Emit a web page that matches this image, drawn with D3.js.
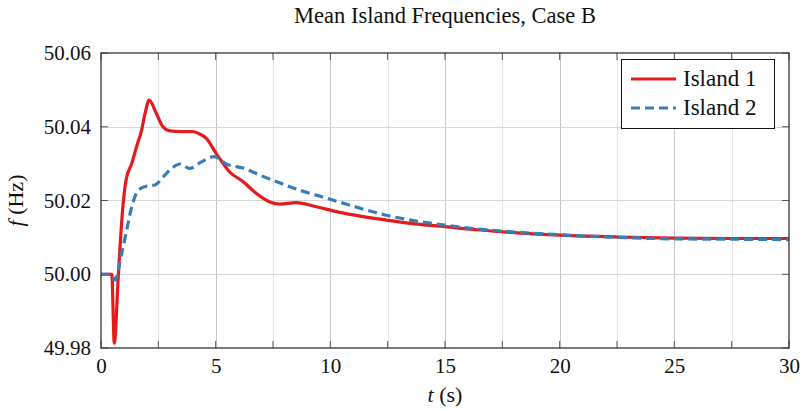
<!DOCTYPE html>
<html>
<head>
<meta charset="utf-8">
<script src="https://cdn.jsdelivr.net/npm/d3@7"></script>
<style>
  html, body { margin: 0; padding: 0; background: #fff; }
  svg { display: block; }
</style>
</head>
<body>
<svg id="chart" width="805" height="411"></svg>
<script>
// Mean island frequency traces (time in s, frequency in Hz)
const island1Time = [0, 0.47, 0.58, 0.75, 0.83, 0.93, 1.09, 1.34, 1.55, 1.77, 1.92, 2.1, 2.4, 2.7, 3.0, 3.5, 4.0, 4.25, 4.6, 5.04, 5.6, 6.2, 6.78, 7.36, 7.8, 8.5, 9.4, 10.26, 11.0, 12.44, 13.5, 15.0, 16.5, 18.0, 20.0, 22.5, 25.0, 27.5, 30.0];
const island1Freq = [50.0, 50.0, 49.9813, 49.9990, 50.0074, 50.0165, 50.0255, 50.0300, 50.0346, 50.0391, 50.0436, 50.0472, 50.0438, 50.0400, 50.0389, 50.0387, 50.0387, 50.0382, 50.0368, 50.0326, 50.0278, 50.0251, 50.0219, 50.0196, 50.0190, 50.0194, 50.0183, 50.0170, 50.0161, 50.0147, 50.0138, 50.0129, 50.0120, 50.0113, 50.0106, 50.0101, 50.0098, 50.0097, 50.0097];

const island2Time = [0, 0.47, 0.61, 0.9, 1.12, 1.34, 1.63, 1.99, 2.35, 2.71, 3.08, 3.44, 3.87, 4.31, 4.93, 5.5, 6.2, 6.92, 7.79, 8.66, 9.53, 10.33, 12.44, 15.0, 17.5, 20.0, 22.5, 25.0, 27.5, 30.0];
const island2Freq = [50.0, 50.0, 49.9984, 50.0056, 50.0120, 50.0183, 50.0228, 50.0239, 50.0242, 50.0264, 50.0287, 50.0299, 50.0287, 50.0302, 50.0319, 50.0298, 50.0288, 50.0269, 50.0248, 50.0228, 50.0212, 50.0197, 50.0160, 50.0133, 50.0117, 50.0107, 50.0100, 50.0096, 50.0095, 50.0094];

const seriesNames = ["Island 1", "Island 2"];
const seriesColors = ["#e41a1c", "#377eb8"];

const xTicks = [0, 5, 10, 15, 20, 25, 30];
const xMinorTicks = [2.5, 7.5, 12.5, 17.5, 22.5, 27.5];
const yTicks = [49.98, 50.00, 50.02, 50.04, 50.06];

const titleText = "Mean Island Frequencies, Case B";

const plot = { left: 101, right: 789, top: 53, bottom: 348 };
const FONT = "'Liberation Serif'";

const svg = d3.select("#chart");

const x = d3.scaleLinear().domain([0, 30]).range([plot.left, plot.right]);
const y = d3.scaleLinear().domain([49.98, 50.06]).range([plot.bottom, plot.top]);

// grid: light minor verticals, darker major verticals, major horizontals
const grid = svg.append("g");
grid.selectAll("line.vminor").data(xMinorTicks).join("line")
  .attr("x1", d => Math.round(x(d)) + 0.5).attr("x2", d => Math.round(x(d)) + 0.5)
  .attr("y1", plot.top).attr("y2", plot.bottom)
  .attr("stroke", "#e4e4e4").attr("stroke-width", 1);
grid.selectAll("line.vmajor").data(xTicks.slice(1, -1)).join("line")
  .attr("x1", d => Math.round(x(d)) + 0.5).attr("x2", d => Math.round(x(d)) + 0.5)
  .attr("y1", plot.top).attr("y2", plot.bottom)
  .attr("stroke", "#c6c6c6").attr("stroke-width", 1);
grid.selectAll("line.h").data(yTicks.slice(1, -1)).join("line")
  .attr("x1", plot.left).attr("x2", plot.right)
  .attr("y1", d => Math.round(y(d)) + 0.5).attr("y2", d => Math.round(y(d)) + 0.5)
  .attr("stroke", "#d6d6d6").attr("stroke-width", 1);

// inward tick marks on all four sides
const tickLen = 7;
const tk = svg.append("g").attr("stroke", "#555").attr("stroke-width", 1);
const allX = xTicks.concat(xMinorTicks);
tk.selectAll("line.xb").data(allX).join("line")
  .attr("x1", d => x(d)).attr("x2", d => x(d))
  .attr("y1", plot.bottom).attr("y2", plot.bottom - tickLen);
tk.selectAll("line.xt").data(allX).join("line")
  .attr("x1", d => x(d)).attr("x2", d => x(d))
  .attr("y1", plot.top).attr("y2", plot.top + tickLen);
tk.selectAll("line.yl").data(yTicks).join("line")
  .attr("x1", plot.left).attr("x2", plot.left + tickLen)
  .attr("y1", d => y(d)).attr("y2", d => y(d));
tk.selectAll("line.yr").data(yTicks).join("line")
  .attr("x1", plot.right).attr("x2", plot.right - tickLen)
  .attr("y1", d => y(d)).attr("y2", d => y(d));

// data lines
svg.append("defs").append("clipPath").attr("id", "plotClip")
  .append("rect").attr("x", plot.left).attr("y", plot.top)
  .attr("width", plot.right - plot.left).attr("height", plot.bottom - plot.top);

const line = d3.line().x(d => x(d[0])).y(d => y(d[1])).curve(d3.curveMonotoneX);
const series = [
  d3.zip(island1Time, island1Freq),
  d3.zip(island2Time, island2Freq)
];
const lines = svg.append("g").attr("clip-path", "url(#plotClip)");
lines.append("path").datum(series[0])
  .attr("d", line).attr("fill", "none")
  .attr("stroke", seriesColors[0]).attr("stroke-width", 3.2)
  .attr("stroke-linejoin", "round");
lines.append("path").datum(series[1])
  .attr("d", line).attr("fill", "none")
  .attr("stroke", seriesColors[1]).attr("stroke-width", 3.2)
  .attr("stroke-dasharray", "9,5");

// frame
svg.append("rect")
  .attr("x", plot.left).attr("y", plot.top)
  .attr("width", plot.right - plot.left).attr("height", plot.bottom - plot.top)
  .attr("fill", "none").attr("stroke", "#333").attr("stroke-width", 1.3);

// tick labels via d3 axes (tick marks drawn separately above)
const xAxis = d3.axisBottom(x).tickValues(xTicks).tickFormat(d3.format("d")).tickSize(0).tickPadding(10);
svg.append("g").attr("transform", `translate(0,${plot.bottom})`).call(xAxis)
  .call(g => g.select(".domain").remove())
  .call(g => g.selectAll("text").attr("fill", "#111").style("font-size", "21px"));

const yAxis = d3.axisLeft(y).tickValues(yTicks).tickFormat(d3.format(".2f")).tickSize(0).tickPadding(10);
svg.append("g").attr("transform", `translate(${plot.left},0)`).call(yAxis)
  .call(g => g.select(".domain").remove())
  .call(g => g.selectAll("text").attr("fill", "#111").style("font-size", "21px"));

// title
svg.append("text").attr("x", (plot.left + plot.right) / 2).attr("y", 23)
  .attr("text-anchor", "middle").style("font-size", "22.5px").attr("fill", "#111")
  .text(titleText);

// x axis label
const xl = svg.append("text").attr("x", (plot.left + plot.right) / 2).attr("y", 402)
  .attr("text-anchor", "middle").style("font-size", "22px").attr("fill", "#111");
xl.append("tspan").style("font-style", "italic").text("t");
xl.append("tspan").text(" (s)");

// y axis label
const yl = svg.append("text")
  .attr("transform", `translate(23,${(plot.top + plot.bottom) / 2}) rotate(-90)`)
  .attr("text-anchor", "middle").style("font-size", "22px").attr("fill", "#111");
yl.append("tspan").style("font-style", "italic").text("f");
yl.append("tspan").text(" (Hz)");

// legend
const lg = svg.append("g");
lg.append("rect").attr("x", 621.5).attr("y", 59.5).attr("width", 153).attr("height", 69)
  .attr("fill", "#fff").attr("stroke", "#111").attr("stroke-width", 1);
seriesNames.forEach((name, i) => {
  const cy = 79 + i * 29;
  lg.append("line").attr("x1", 631).attr("x2", 676).attr("y1", cy).attr("y2", cy)
    .attr("stroke", seriesColors[i]).attr("stroke-width", 3.2)
    .attr("stroke-dasharray", i === 1 ? "9,5" : null);
  lg.append("text").attr("x", 683).attr("y", cy + 7).style("font-size", "23px")
    .attr("fill", "#111").text(name);
});

// serif face on every label, set directly on each text element
svg.selectAll("text, tspan").style("font-family", FONT);
</script>
</body>
</html>
